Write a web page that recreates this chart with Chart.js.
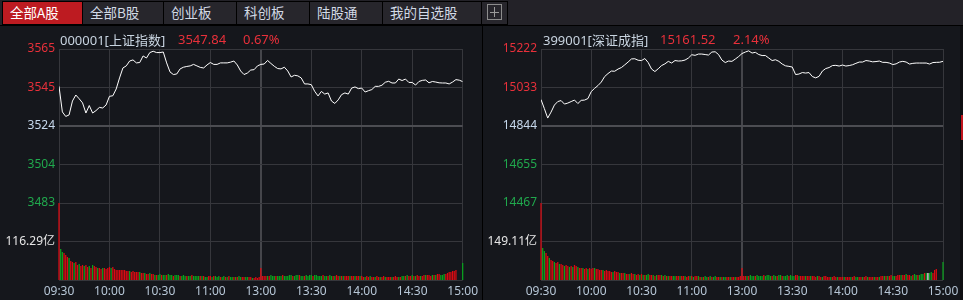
<!DOCTYPE html>
<html>
<head>
<meta charset="utf-8">
<script src="https://cdn.jsdelivr.net/npm/chart.js@4.4.1/dist/chart.umd.min.js"></script>
<style>
  body { margin: 0; width: 963px; height: 300px; overflow: hidden; position: relative; background: #15171c; }
  #tabs { position: absolute; left: 0; top: 0; width: 963px; height: 25px; background: #232228; border-bottom: 1px solid #000; }
  #tabrow { position: absolute; left: 2px; top: 1px; display: flex; gap: 1px; background: #000; padding: 1px; }
  .tab { height: 22px; line-height: 22px; padding-left: 7px; box-sizing: border-box; background: #27262c; color: #d2dae6;
         font: 13.5px 'Noto Sans CJK SC', sans-serif; white-space: nowrap; }
  .tab.on { background: #bd1b21; color: #fff; }
  .plus { position: relative; width: 15px; height: 16px; margin: 2px 0 0 -2px; border: 1px solid #8c8c8c; box-sizing: border-box; }
  .plus::before { content: ''; position: absolute; left: 2px; right: 2px; top: 7px; height: 1px; background: #9a9a9a; }
  .plus::after { content: ''; position: absolute; top: 2px; bottom: 2px; left: 6px; width: 1px; background: #9a9a9a; }
  canvas { position: absolute; top: 27px; }
  .hdr { position: absolute; top: 30px; line-height: 16px; font: 13px 'Noto Sans', 'Noto Sans CJK SC', sans-serif; white-space: nowrap; }
  .code { color: #c8d4e0; }
  .up { color: #e8303a; }
</style>
</head>
<body>
<div id="tabs">
  <div id="tabrow">
    <div class="tab on" style="width:79px">全部A股</div>
    <div class="tab" style="width:80px">全部B股</div>
    <div class="tab" style="width:72px">创业板</div>
    <div class="tab" style="width:72px">科创板</div>
    <div class="tab" style="width:72px">陆股通</div>
    <div class="tab" style="width:98px">我的自选股</div>
    <div class="tab" style="width:25px"><div class="plus"></div></div>
  </div>
</div>
<div style="position:absolute;left:482px;top:26px;width:1px;height:274px;background:#000"></div>
<div style="position:absolute;left:960px;top:26px;width:3px;height:274px;background:#0e0f12"></div>
<div style="position:absolute;left:961px;top:115px;width:2px;height:25px;background:#c0141c"></div>

<canvas id="left" width="482" height="273" style="left:0"></canvas>
<canvas id="right" width="480" height="273" style="left:483px"></canvas>

<div class="hdr code" style="left:60px">000001[上证指数]</div>
<div class="hdr up" style="left:178px">3547.84</div>
<div class="hdr up" style="left:243px">0.67%</div>
<div class="hdr code" style="left:543px">399001[深证成指]</div>
<div class="hdr up" style="left:660px">15161.52</div>
<div class="hdr up" style="left:733px">2.14%</div>

<script>
// time axis labels, one every 30 trading minutes (241 minutes in the day)
const timeLabels = ['09:30', '10:00', '10:30', '11:00', '13:00', '13:30', '14:00', '14:30', '15:00'];

// 上证指数, price every 2 minutes
const shPrice = [
  3545.3, 3531.7, 3529.3, 3530.1, 3537.5, 3540.7, 3538.7, 3536.5, 3531.1, 3535.1,
  3531.1, 3532.4, 3534.1, 3533.8, 3535.4, 3540.0, 3540.3, 3543.9, 3549.8, 3555.1,
  3556.2, 3558.8, 3559.4, 3557.8, 3558.0, 3561.5, 3560.4, 3563.3, 3564.0, 3563.3,
  3563.3, 3563.6, 3557.8, 3553.0, 3551.6, 3551.9, 3554.6, 3555.5, 3555.9, 3556.2,
  3557.0, 3556.2, 3555.4, 3555.1, 3556.7, 3558.0, 3557.0, 3557.0, 3557.8, 3557.8,
  3557.8, 3558.2, 3558.8, 3556.7, 3553.5, 3551.6, 3552.4, 3554.0, 3554.2, 3556.2,
  3557.0, 3557.2, 3559.1, 3557.5, 3556.0, 3554.8, 3554.6, 3555.5, 3553.5, 3550.3,
  3551.2, 3550.9, 3549.8, 3546.6, 3546.6, 3546.2, 3542.7, 3540.2, 3542.6, 3541.2,
  3541.8, 3537.5, 3536.2, 3538.1, 3540.9, 3541.8, 3541.2, 3544.4, 3545.0, 3544.1,
  3544.4, 3542.3, 3543.0, 3543.6, 3545.3, 3545.3, 3545.9, 3547.5, 3548.0, 3547.1,
  3547.1, 3549.2, 3548.4, 3549.2, 3547.4, 3547.4, 3546.0, 3547.9, 3548.5, 3548.7,
  3547.2, 3547.9, 3547.6, 3547.2, 3547.1, 3547.1, 3546.6, 3547.6, 3548.9, 3548.6,
  3547.84
];
const shPriceLabels = ['3565', '3545', '3524', '3504', '3483'];
// 上证 volume per minute, 亿
const shVolume = [
  232.58, 93.6, 84.6, 81.5, 75.5, 69.5, 66.4, 57.4, 54.4, 51.3,
  54.4, 45.3, 48.3, 42.3, 45.3, 42.3, 45.3, 39.3, 42.3, 36.2,
  45.3, 42.3, 39.3, 36.2, 36.2, 33.2, 36.2, 36.2, 33.2, 36.2,
  39.3, 36.2, 39.3, 33.2, 30.2, 30.2, 30.2, 30.2, 30.2, 30.2,
  27.2, 27.2, 27.2, 24.2, 27.2, 24.2, 24.2, 24.2, 24.2, 21.1,
  21.1, 21.1, 18.1, 18.1, 21.1, 18.1, 18.1, 15.1, 15.1, 15.1,
  18.1, 15.1, 15.1, 15.1, 15.1, 18.1, 15.1, 15.1, 12.1, 15.1,
  15.1, 15.1, 12.1, 12.1, 15.1, 12.1, 12.1, 12.1, 12.1, 15.1,
  12.1, 12.1, 12.1, 12.1, 12.1, 12.1, 12.1, 9.1, 9.1, 12.1,
  12.1, 9.1, 12.1, 12.1, 9.1, 12.1, 9.1, 9.1, 12.1, 9.1,
  9.1, 12.1, 9.1, 9.1, 9.1, 9.1, 9.1, 12.1, 9.1, 9.1,
  9.1, 9.1, 9.1, 9.1, 9.1, 6.0, 6.0, 9.1, 6.0, 9.1,
  36.2,
  12.1, 12.1, 12.1, 12.1, 12.1, 15.1, 12.1, 12.1, 12.1, 12.1,
  12.1, 12.1, 15.1, 12.1, 12.1, 12.1, 15.1, 15.1, 12.1, 12.1,
  15.1, 15.1, 15.1, 12.1, 12.1, 12.1, 15.1, 12.1, 15.1, 15.1,
  12.1, 15.1, 15.1, 12.1, 12.1, 12.1, 15.1, 12.1, 12.1, 12.1,
  15.1, 12.1, 12.1, 12.1, 15.1, 12.1, 12.1, 12.1, 12.1, 12.1,
  12.1, 12.1, 12.1, 12.1, 12.1, 12.1, 12.1, 12.1, 12.1, 12.1,
  9.1, 9.1, 12.1, 9.1, 12.1, 9.1, 9.1, 9.1, 12.1, 9.1,
  9.1, 9.1, 12.1, 9.1, 9.1, 9.1, 9.1, 9.1, 9.1, 12.1,
  9.1, 9.1, 9.1, 12.1, 12.1, 12.1, 15.1, 12.1, 12.1, 15.1,
  12.1, 12.1, 15.1, 12.1, 12.1, 12.1, 15.1, 15.1, 15.1, 15.1,
  12.1, 15.1, 15.1, 15.1, 18.1, 18.1, 15.1, 15.1, 18.1, 18.1,
  21.1, 24.2, 24.2, 27.2, 27.2, 30.2, 0, 0, 0, 51.3
];
// r = up minute, g = down minute, w = flat
const shVolSide =
  'rggrrrgrrg' + 'rrgrrgrrgr' + 'grrgrrgrrr' + 'rgrrrrrrrr' + 'rrgrrrrrgr' + 'rgrrgrrgrg' +
  'grggrgggrg' + 'ggrgggrggr' + 'ggggrgrggr' + 'rgrgggrggr' + 'grggrgrggr' + 'rggrrgrrrr' +
  'r' +
  'rrrgrgggrg' + 'ggrgggggrg' + 'ggrggrgggg' + 'rgggggrggr' + 'ggrgrrgrgr' + 'rrgrrgrrgr' +
  'rgrrgrrgrr' + 'grrgrrrgrr' + 'rgrggrgrrg' + 'rgrrgrrgrr' + 'rgrgrrgggr' + 'rrrrrrrrrg';

// 深证成指, price every 2 minutes
const szPrice = [
  14974.0, 14929.8, 14883.2, 14912.6, 14947.0, 14964.2, 14969.1, 14951.9, 14956.8, 14964.2,
  14971.5, 14954.4, 14970.1, 14971.5, 14978.9, 15013.3, 15029.0, 15042.7, 15059.9, 15086.9,
  15101.6, 15113.9, 15112.9, 15123.7, 15131.1, 15144.3, 15158.1, 15173.3, 15174.3, 15166.9,
  15165.4, 15175.3, 15155.6, 15123.7, 15111.4, 15125.2, 15140.9, 15149.2, 15161.5, 15153.2,
  15165.4, 15163.0, 15164.0, 15167.9, 15177.7, 15193.9, 15191.0, 15197.3, 15197.3, 15194.9,
  15192.4, 15207.2, 15208.6, 15194.9, 15167.9, 15155.6, 15163.0, 15161.5, 15172.8, 15185.1,
  15199.8, 15207.2, 15213.1, 15202.3, 15205.7, 15194.9, 15190.0, 15190.0, 15177.7, 15165.4,
  15169.4, 15161.5, 15148.3, 15139.4, 15137.0, 15133.5, 15096.7, 15099.2, 15106.5, 15104.1,
  15106.5, 15086.9, 15080.5, 15087.9, 15113.9, 15126.2, 15131.1, 15140.9, 15141.9, 15138.4,
  15143.4, 15138.4, 15140.9, 15144.8, 15151.7, 15158.1, 15158.1, 15165.4, 15163.0, 15159.1,
  15160.5, 15163.0, 15156.6, 15156.6, 15153.2, 15145.8, 15149.2, 15158.1, 15161.5, 15158.1,
  15148.3, 15151.7, 15153.2, 15153.2, 15153.2, 15153.2, 15148.3, 15155.6, 15156.6, 15157.1,
  15161.52
];
const szPriceLabels = ['15222', '15033', '14844', '14655', '14467'];
const szVolume = [
  298.22, 124.0, 112.3, 104.6, 93.0, 85.2, 77.5, 73.6, 69.7, 65.8,
  69.7, 62.0, 62.0, 58.1, 54.2, 58.1, 54.2, 50.3, 54.2, 50.3,
  58.1, 54.2, 50.3, 46.5, 46.5, 46.5, 42.6, 46.5, 42.6, 46.5,
  42.6, 46.5, 46.5, 42.6, 42.6, 38.7, 38.7, 38.7, 34.9, 38.7,
  34.9, 34.9, 31.0, 31.0, 34.9, 31.0, 31.0, 27.1, 27.1, 27.1,
  27.1, 23.2, 23.2, 23.2, 27.1, 23.2, 23.2, 19.4, 23.2, 19.4,
  23.2, 19.4, 19.4, 19.4, 23.2, 19.4, 19.4, 19.4, 15.5, 19.4,
  19.4, 19.4, 19.4, 15.5, 19.4, 15.5, 15.5, 15.5, 15.5, 15.5,
  15.5, 15.5, 15.5, 15.5, 15.5, 15.5, 15.5, 11.6, 15.5, 15.5,
  15.5, 11.6, 15.5, 15.5, 15.5, 11.6, 11.6, 11.6, 15.5, 11.6,
  11.6, 15.5, 11.6, 11.6, 15.5, 11.6, 11.6, 11.6, 11.6, 11.6,
  11.6, 11.6, 11.6, 11.6, 11.6, 11.6, 11.6, 11.6, 11.6, 15.5,
  46.5,
  15.5, 15.5, 15.5, 15.5, 19.4, 15.5, 15.5, 15.5, 19.4, 15.5,
  15.5, 15.5, 19.4, 15.5, 19.4, 19.4, 15.5, 15.5, 19.4, 15.5,
  15.5, 19.4, 19.4, 15.5, 15.5, 15.5, 19.4, 15.5, 19.4, 15.5,
  15.5, 19.4, 19.4, 15.5, 15.5, 15.5, 15.5, 15.5, 15.5, 15.5,
  15.5, 15.5, 15.5, 11.6, 15.5, 15.5, 11.6, 11.6, 15.5, 15.5,
  11.6, 11.6, 11.6, 11.6, 15.5, 11.6, 11.6, 11.6, 11.6, 11.6,
  11.6, 11.6, 11.6, 11.6, 11.6, 11.6, 15.5, 11.6, 11.6, 11.6,
  11.6, 11.6, 11.6, 15.5, 11.6, 11.6, 11.6, 11.6, 11.6, 11.6,
  11.6, 11.6, 15.5, 15.5, 15.5, 15.5, 15.5, 15.5, 19.4, 15.5,
  15.5, 15.5, 19.4, 19.4, 19.4, 19.4, 19.4, 23.2, 19.4, 19.4,
  15.5, 19.4, 23.2, 19.4, 19.4, 19.4, 23.2, 23.2, 27.1, 27.1,
  27.1, 27.1, 31.0, 27.1, 38.7, 42.6, 0, 0, 0, 69.7
];
const szVolSide =
  'rggrrgrrgr' + 'rgrrgrrgrg' + 'rrgrrgrrgr' + 'rrgrrrrgrr' + 'rrrgrrrgrr' + 'grrgrrgrrg' +
  'rgrggrrgrg' + 'rrgrgrgrrg' + 'grrgrrgrrg' + 'rgrrgrgrgg' + 'rgrggrrgrg' + 'grrgrrgrrr' +
  'r' +
  'rrgrgggrgg' + 'ggrggggrgg' + 'rggrgggrgg' + 'grrgrrrgrr' + 'grrrgrrgrr' + 'rrgrrrgrrr' +
  'grrrgrrggr' + 'rgrrgrrrgr' + 'rgrrgrgrrg' + 'grrrgrrgrr' + 'grggrgggrg' + 'wggrrrrrrg';

const RED = '#e8303a', GREEN = '#20a94d', FLAT = '#c6d8ec', WHITE = '#e6e6e6';
const AXIS = '#b6c6d6', GRID = '#36373c', GRID_MID = '#45464b';
const barColors = { r: '#dc0a12', g: '#0aa21e', w: '#f0f0f0' };

Chart.defaults.font.family = "'Noto Sans', 'Noto Sans CJK SC', sans-serif";
Chart.defaults.font.size = 12;

function drawPanel(id, p) {
  const step = p.range / 2;
  const gridValues = [0, 1, 2, 3, 4, 5, 6].map(i => p.preClose + p.range - i * step);
  const volTop = Math.max(...p.volume);
  const yLabels = p.priceLabels.concat([(volTop / 2).toFixed(2) + '亿', '']);
  const yColors = [RED, RED, FLAT, GREEN, GREEN, WHITE, WHITE];

  return new Chart(document.getElementById(id), {
    type: 'bar',
    data: {
      datasets: [
        {
          type: 'line',
          data: p.price.map((v, i) => ({ x: i * 2, y: v })),
          yAxisID: 'y',
          borderColor: '#ffffff',
          borderWidth: 1,
          pointRadius: 0,
          tension: 0,
          order: 0,
        },
        {
          type: 'bar',
          data: p.volume.map((v, i) => ({ x: i, y: v })),
          yAxisID: 'v',
          backgroundColor: p.side.split('').map(c => barColors[c]),
          barPercentage: 0.75,
          categoryPercentage: 1,
          clip: false,
          order: 1,
        },
      ],
    },
    options: {
      responsive: false,
      animation: false,
      layout: { padding: { top: 22, right: p.padRight, left: 0, bottom: 0 } },
      plugins: { legend: { display: false }, tooltip: { enabled: false } },
      scales: {
        x: {
          type: 'linear',
          min: 0,
          max: 240,
          offset: false,
          afterBuildTicks: s => { s.ticks = timeLabels.map((t, i) => ({ value: i * 30 })); },
          afterFit: s => { s.height = 20; },
          ticks: { callback: (v, i) => timeLabels[i], color: AXIS, padding: 4, maxRotation: 0, autoSkip: false },
          grid: {
            offset: false,
            drawTicks: false,
            color: c => (c.tick && c.tick.value === 120 ? GRID_MID : GRID),
            lineWidth: c => (c.tick && c.tick.value === 120 ? 2 : 1),
          },
          border: { display: false },
        },
        y: {
          type: 'linear',
          position: 'left',
          min: gridValues[6],
          max: gridValues[0],
          afterBuildTicks: s => { s.ticks = gridValues.map(v => ({ value: v })); },
          afterFit: s => { s.width = p.axisWidth; },
          ticks: { callback: (v, i) => yLabels[i], color: c => yColors[c.index], padding: 4, autoSkip: false },
          grid: {
            drawTicks: false,
            color: c => (c.index === 2 ? '#4c4d52' : GRID),
            lineWidth: c => (c.index === 2 ? 2 : 1),
          },
          border: { display: false },
        },
        v: { type: 'linear', display: false, min: 0, max: volTop * 3 },
      },
    },
  });
}

drawPanel('left', {
  price: shPrice, volume: shVolume, side: shVolSide, priceLabels: shPriceLabels,
  preClose: 3524.2, range: 41, axisWidth: 59, padRight: 17,
});
drawPanel('right', {
  price: szPrice, volume: szVolume, side: szVolSide, priceLabels: szPriceLabels,
  preClose: 14844.3, range: 377.8, axisWidth: 58, padRight: 20,
});
</script>
</body>
</html>
